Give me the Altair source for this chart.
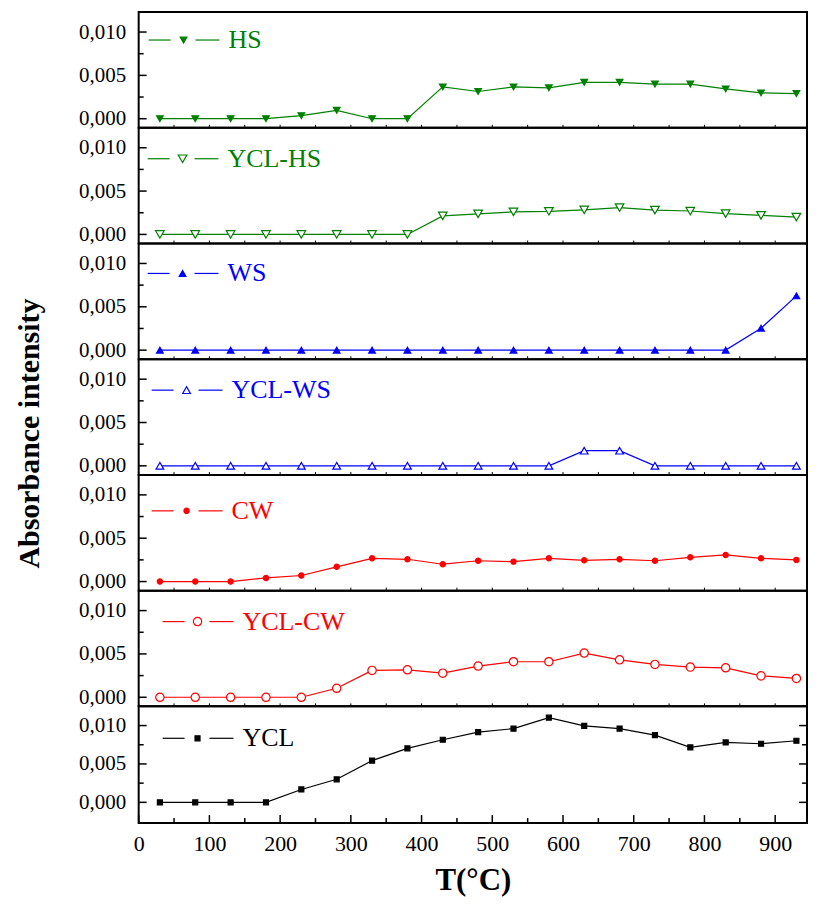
import altair as alt
import pandas as pd

T = [30, 80, 130, 180, 230, 280, 330, 380, 430, 480, 530, 580, 630, 680, 730, 780, 830, 880, 930]

HS = [0, 0, 0, 0, 0.00035, 0.00097, 0, 0, 0.00367, 0.00314, 0.00367, 0.00356,
      0.0042, 0.0042, 0.0040, 0.0040, 0.00344, 0.00298, 0.0029]
YCL_HS = [0, 0, 0, 0, 0, 0, 0, 0, 0.00214, 0.00237, 0.0026, 0.00267,
          0.00284, 0.0031, 0.0028, 0.0027, 0.0024, 0.0022, 0.0020]
WS = [0, 0, 0, 0, 0, 0, 0, 0, 0, 0, 0, 0, 0, 0, 0, 0, 0, 0.00253, 0.00626]
YCL_WS = [0, 0, 0, 0, 0, 0, 0, 0, 0, 0, 0, 0, 0.00175, 0.00175, 0, 0, 0, 0, 0]
CW = [0, 0, 0, 0.00042, 0.0007, 0.0017, 0.00268, 0.00257, 0.0020, 0.0024, 0.0023,
      0.00268, 0.00245, 0.00257, 0.0024, 0.0028, 0.00307, 0.00268, 0.0025]
YCL_CW = [0, 0, 0, 0, 0, 0.00104, 0.0031, 0.00317, 0.00278, 0.0036, 0.0041, 0.0041,
          0.0051, 0.00432, 0.00379, 0.00348, 0.0034, 0.00247, 0.00217]
YCL = [0, 0, 0, 0, 0.00168, 0.0030, 0.00543, 0.00703, 0.00815, 0.00914, 0.0096,
       0.01103, 0.00996, 0.0096, 0.00875, 0.00716, 0.0078, 0.00763, 0.00802]

NAMES = ["HS", "YCL-HS", "WS", "YCL-WS", "CW", "YCL-CW", "YCL"]
VALUES = [HS, YCL_HS, WS, YCL_WS, CW, YCL_CW, YCL]
COLORS = ["#008000", "#008000", "#0000FF", "#0000FF", "#FF0000", "#FF0000", "#000000"]
SHAPES = ["triangle-down", "triangle-down", "triangle-up", "triangle-up", "circle", "circle", "square"]
FILLED = [True, False, True, False, True, False, True]
SIZES = [45, 75, 45, 60, 28, 70, 25]
LEG_X0 = [10, 9, 9, 13, 13, 24, 24]
LEG_Y = [28, 31, 30, 31, 36, 31, 32]

X_MAJOR = [0, 100, 200, 300, 400, 500, 600, 700, 800, 900]
X_MINOR = [50, 150, 250, 350, 450, 550, 650, 750, 850]
X_ALL = [0, 50, 100, 150, 200, 250, 300, 350, 400, 450, 500, 550, 600, 650, 700, 750, 800, 850, 900]
Y_MAJOR = [0, 0.005, 0.010]
Y_MINOR = [0.0025, 0.0075]

W = 670
FONT = "Liberation Serif"
TITLE_PANEL = 3


def panel(i):
    bottom = i == len(NAMES) - 1
    H = 117 if bottom else 116
    dom = [-0.0027, 0.0125] if bottom else [-0.00105, 0.0123]
    color = COLORS[i]
    xs = alt.Scale(domain=[0, 945], nice=False, zero=False)
    ys = alt.Scale(domain=dom, nice=False, zero=False)

    yaxis_kw = dict(
        values=Y_MAJOR, ticks=False, domain=False, grid=False,
        labelExpr="replace(format(datum.value, '.3f'), '.', ',')",
        labelFont=FONT, labelFontSize=21, labelColor="black", labelPadding=13,
    )
    if i == TITLE_PANEL:
        yaxis_kw.update(
            title="Absorbance intensity", titleFont=FONT, titleFontSize=30,
            titleFontWeight="bold", titleColor="black", titlePadding=34, titleY=74,
        )
    else:
        yaxis_kw["title"] = None
    yaxis = alt.Axis(**yaxis_kw)

    if bottom:
        xaxis = alt.Axis(values=X_MAJOR, ticks=False, domain=False, grid=False,
                         labelFont=FONT, labelFontSize=22, labelColor="black",
                         labelPadding=10, labelFlush=False,
                         title="T(°C)", titleFont=FONT, titleFontSize=31,
                         titleFontWeight="bold", titleColor="black", titlePadding=12)
    else:
        xaxis = None

    def X(field):
        return alt.X(field, scale=xs, axis=xaxis)

    def Y(field):
        return alt.Y(field, scale=ys, axis=yaxis)

    df = pd.DataFrame({"T": T, "A": VALUES[i]})
    line = alt.Chart(df).mark_line(color=color, strokeWidth=1.2).encode(
        x=X("T:Q"), y=Y("A:Q"))
    pts = alt.Chart(df).mark_point(
        shape=SHAPES[i], size=SIZES[i], filled=True,
        fill=color if FILLED[i] else "white", stroke=color,
        strokeWidth=1.2, opacity=1,
    ).encode(x=X("T:Q"), y=Y("A:Q"))

    layers = [line, pts]

    # inward ticks on the left
    ymaj = pd.DataFrame({"v": Y_MAJOR})
    ymin = pd.DataFrame({"v": Y_MINOR})
    layers.append(alt.Chart(ymaj).mark_rule(color="black", strokeWidth=1.5).encode(
        y=Y("v:Q"), x=alt.value(0), x2=alt.value(8)))
    layers.append(alt.Chart(ymin).mark_rule(color="black", strokeWidth=1.5).encode(
        y=Y("v:Q"), x=alt.value(0), x2=alt.value(5)))

    if bottom:
        xmaj = pd.DataFrame({"v": X_MAJOR})
        xmin = pd.DataFrame({"v": X_MINOR})
        layers.append(alt.Chart(xmaj).mark_rule(color="black", strokeWidth=1.5).encode(
            x=X("v:Q"), y=alt.value(H), y2=alt.value(H - 8)))
        layers.append(alt.Chart(xmin).mark_rule(color="black", strokeWidth=1.5).encode(
            x=X("v:Q"), y=alt.value(H), y2=alt.value(H - 5)))
        layers.append(alt.Chart(ymaj).mark_rule(color="black", strokeWidth=1.5).encode(
            y=Y("v:Q"), x=alt.value(W), x2=alt.value(W - 8)))
        layers.append(alt.Chart(ymin).mark_rule(color="black", strokeWidth=1.5).encode(
            y=Y("v:Q"), x=alt.value(W), x2=alt.value(W - 5)))
    else:
        xall = pd.DataFrame({"v": X_ALL})
        layers.append(alt.Chart(xall).mark_rule(color="black", strokeWidth=1).encode(
            x=X("v:Q"), y=alt.value(H), y2=alt.value(H - 3)))

    # legend glyph
    x0 = LEG_X0[i]
    ly = LEG_Y[i]
    leg = pd.DataFrame({"label": [NAMES[i]]})
    layers.append(alt.Chart(leg).mark_rule(color=color, strokeWidth=1.2).encode(
        x=alt.value(x0), x2=alt.value(x0 + 22), y=alt.value(ly)))
    layers.append(alt.Chart(leg).mark_rule(color=color, strokeWidth=1.2).encode(
        x=alt.value(x0 + 47), x2=alt.value(x0 + 71), y=alt.value(ly)))
    layers.append(alt.Chart(leg).mark_point(
        shape=SHAPES[i], size=SIZES[i], filled=True,
        fill=color if FILLED[i] else "white", stroke=color,
        strokeWidth=1.2, opacity=1,
    ).encode(x=alt.value(x0 + 35), y=alt.value(ly)))
    layers.append(alt.Chart(leg).mark_text(
        align="left", baseline="middle", font=FONT, fontSize=26, color=color,
    ).encode(x=alt.value(x0 + 80), y=alt.value(ly), text="label:N"))

    return alt.layer(*layers).properties(width=W, height=H)


chart = alt.vconcat(*[panel(i) for i in range(len(NAMES))], spacing=0, bounds="flush").properties(
    padding={"left": 5, "top": 2, "right": 0, "bottom": 0},
    background="white",
).configure_view(stroke="black", strokeWidth=2)

chart.save("out.html", embed_options={"renderer": "svg", "actions": False})
